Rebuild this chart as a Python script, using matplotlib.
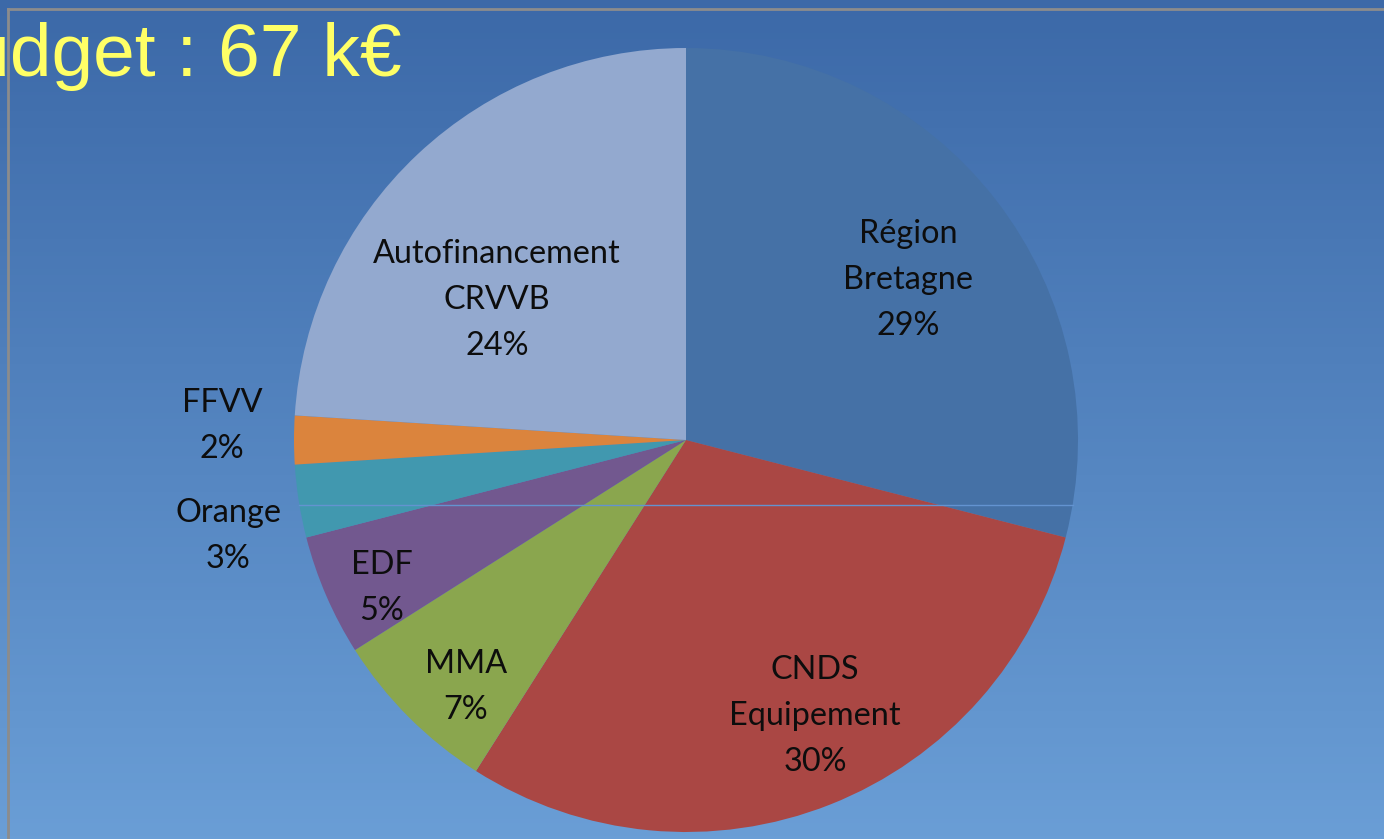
import matplotlib
matplotlib.use('Agg')
import matplotlib.pyplot as plt
import numpy as np

# data
labels = ['Région\nBretagne', 'CNDS\nEquipement', 'MMA', 'EDF', 'Orange', 'FFVV',
          'Autofinancement\nCRVVB']
values = [29, 30, 7, 5, 3, 2, 24]
colors = ['#4571A6', '#AA4744', '#8AA64E', '#72588F', '#4198AF', '#DB843D', '#93A9CF']
title = 'Budget : 67 k€'

W, H = 1384, 839
cx, cy, R = 686, 440, 392

# label centres in reference pixels
label_px = [(908, 280), (815, 716), (466, 687), (382, 588), (228, 536), (222, 426), (497, 300)]

fig = plt.figure(figsize=(W / 100, H / 100), dpi=100)

# background gradient
bg = fig.add_axes([0, 0, 1, 1])
top = np.array([60, 105, 168]) / 255
bottom = np.array([106, 158, 214]) / 255
t = np.linspace(0, 1, 256)[:, None]
grad = top + (bottom - top) * t
grad = np.repeat(grad[:, None, :], 2, axis=1)
bg.imshow(grad, aspect='auto', extent=[0, W, H, 0])
bg.set_xlim(0, W)
bg.set_ylim(H, 0)
bg.axis('off')
# slide frame lines
bg.plot([8, W], [9, 9], color='#8c8c8c', lw=2)
bg.plot([8, 8], [9, H], color='#8c8c8c', lw=2)
bg.text(402, 76, title, color='#FFFF66', fontsize=54, family='Liberation Sans',
        ha='right', va='baseline')

ax = fig.add_axes([(cx - R) / W, (H - cy - R) / H, 2 * R / W, 2 * R / H])
wedges, _ = ax.pie(values, colors=colors, startangle=90, counterclock=False,
                   radius=1, wedgeprops=dict(linewidth=0))
for w in wedges:
    w.set_clip_on(False)
ax.set_xlim(-1, 1)
ax.set_ylim(-1, 1)
ax.axis('off')

for lab, v, (px, py) in zip(labels, values, label_px):
    ax.text((px - cx) / R, (cy - py) / R, f'{lab}\n{v}%', ha='center', va='center',
            fontsize=23.3, family='Lato', color='#0d0d0d', linespacing=1.68)

# faint horizontal streak across the pie
yl = (cy - 505) / R
xl = np.sqrt(1 - yl ** 2)
ax.plot([-xl, xl], [yl, yl], color='#6393d0', lw=1, clip_on=False)

fig.savefig('out.png', dpi=100)
